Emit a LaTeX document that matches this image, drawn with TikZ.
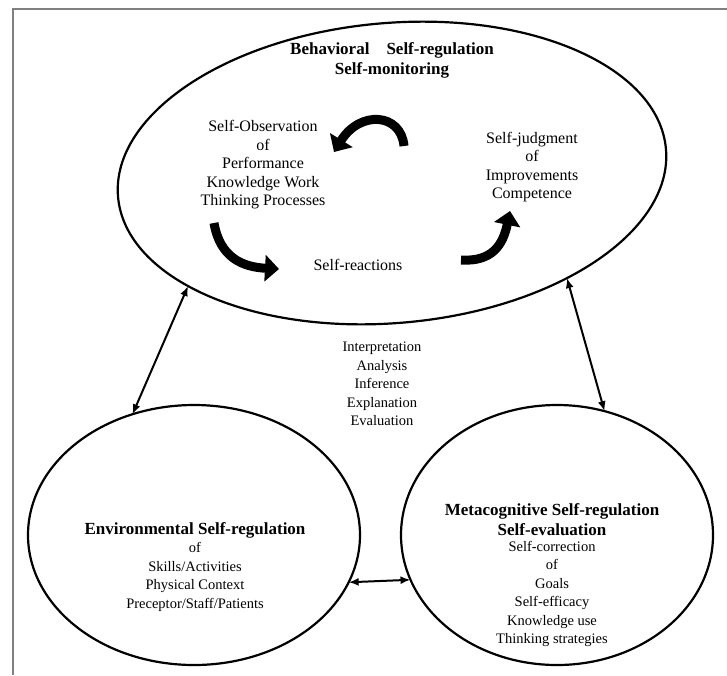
\documentclass[tikz,border=0pt]{standalone}
\usepackage{fontspec}
\setmainfont{Liberation Serif}
\usetikzlibrary{shapes.geometric,arrows.meta}

\tikzset{
  region/.style={draw, ellipse, line width=2.2pt, inner sep=0pt, outer sep=0pt},
  txt/.style={align=center, font=\fontsize{16}{18.5}\selectfont},
  smalltxt/.style={align=center, font=\fontsize{14.5}{18.5}\selectfont},
  head/.style={align=center, font=\bfseries\fontsize{17}{20}\selectfont},
  link/.style={line width=2pt, {Latex[length=10pt,width=8pt]}-{Latex[length=10pt,width=8pt]}},
  turn/.style={line width=9pt, -{Triangle[length=14pt,width=26pt]}}
}

\begin{document}
\begin{tikzpicture}[x=1pt,y=-1pt]
    \useasboundingbox (0,0) rectangle (727,675);
    % Frame
    \draw[gray, line width=2.5pt] (13,675) -- (13,9) -- (727,9);

    % Regions
    \node[region, minimum width=550pt, minimum height=300pt, rotate=5] (behav) at (392,173) {};
    \node[region, minimum width=332pt, minimum height=260pt] (env) at (194,535) {};
    \node[region, minimum width=312pt, minimum height=260pt] (meta) at (557,535) {};

    % Behavioral self-regulation
    \node[head] (behavhead) at (392,60) {Behavioral\quad Self-regulation\\Self-monitoring};
    \node[txt] (obs) at (263,165) {Self-Observation\\of\\Performance\\Knowledge Work\\Thinking Processes};
    \node[txt] (judg) at (532,167) {Self-judgment\\of\\Improvements\\Competence};
    \node[txt] (react) at (358,265) {Self-reactions};

    % Cycle arrows
    \draw[turn] (404,146) .. controls (401,113) and (360,110) .. (334,152);
    \draw[turn] (214,223) .. controls (220,258) and (243,267) .. (279,269);
    \draw[turn] (461,260) .. controls (492,262) and (503,245) .. (510,211);

    % Thinking skills
    \node[smalltxt] (skills) at (382,384) {Interpretation\\Analysis\\Inference\\Explanation\\Evaluation};

    % Environmental self-regulation
    \node[head] (envhead) at (195,530) {Environmental Self-regulation};
    \node[smalltxt] (envbody) at (195,577) {of\\Skills/Activities\\Physical Context\\Preceptor/Staff/Patients};

    % Metacognitive self-regulation
    \node[head] (metahead) at (552,520) {Metacognitive Self-regulation\\Self-evaluation};
    \node[smalltxt] (metabody) at (552,594) {Self-correction\\of\\Goals\\Self-efficacy\\Knowledge use\\Thinking strategies};

    % Links
    \draw[link] (behav.204) -- (env.117);
    \draw[link] (behav.324) -- (meta.69);
    \draw[link] (env.-17) -- (meta.197);
\end{tikzpicture}
\end{document}
